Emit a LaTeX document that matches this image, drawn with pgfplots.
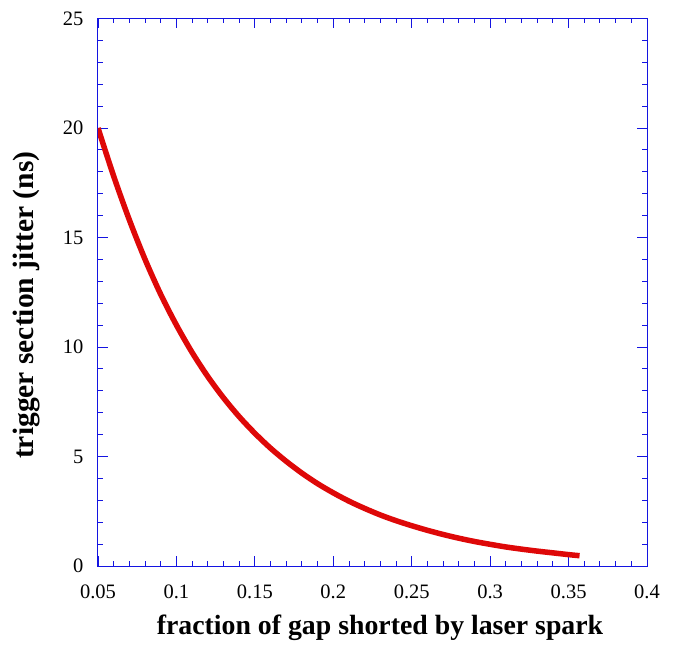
\documentclass[border=0pt]{standalone}
\usepackage{pgfplots}
\pgfplotsset{compat=1.18}
\usepackage{fontspec}
\setmainfont{Liberation Serif}
\definecolor{axblue}{RGB}{20,20,225}
\definecolor{curvered}{RGB}{222,8,8}
\begin{document}
\begin{tikzpicture}
\path[use as bounding box] (-98bp,-79bp) rectangle (586bp,566bp);
\begin{axis}[
  at={(0,0)}, anchor=south west,
  scale only axis,
  width=549bp, height=547.5bp,
  xmin=0.05, xmax=0.4, ymin=0, ymax=25,
  xtick={0.05,0.1,...,0.41},
  ytick={0,5,...,25},
  minor x tick num=4,
  minor y tick num=4,
  tick align=inside,
  major tick length=10bp,
  minor tick length=5bp,
  axis line style={axblue, line width=1bp},
  tick style={axblue, line width=0.9bp},
  scaled x ticks=false,
  /pgf/number format/.cd, fixed, precision=2, assume math mode=true,
  /pgfplots/.cd,
  tick label style={font=\fontsize{20.5bp}{24bp}\selectfont},
  xticklabel style={yshift=-15bp},
  yticklabel style={xshift=-11bp},
  xlabel={\textbf{fraction of gap shorted by laser spark}},
  ylabel={\textbf{trigger section jitter (ns)}},
  every axis x label/.style={at={(axis description cs:0.5,0)}, anchor=center,
     xshift=7.5bp, yshift=-62bp, font=\fontsize{27.8bp}{32bp}\selectfont},
  every axis y label/.style={at={(axis description cs:0,0.5)}, anchor=center,
     xshift=-71bp, yshift=-13bp, rotate=90, font=\fontsize{29.5bp}{34bp}\selectfont},
]
\addplot[curvered, line width=5.5bp, line join=round, smooth, tension=0.5] coordinates {
(0.050,20.0) (0.060,17.8) (0.070,15.8) (0.080,14.0)
(0.090,12.4) (0.100,11.0) (0.110,9.75) (0.120,8.65) (0.130,7.68)
(0.140,6.82) (0.150,6.06) (0.160,5.38) (0.170,4.78) (0.180,4.24)
(0.190,3.76) (0.200,3.34) (0.210,2.96) (0.220,2.63) (0.230,2.33)
(0.240,2.07) (0.250,1.84) (0.260,1.63) (0.270,1.44) (0.280,1.27)
(0.290,1.12) (0.300,0.99) (0.310,0.87) (0.320,0.77) (0.330,0.68)
(0.340,0.60) (0.350,0.52) (0.357,0.47)
};
\end{axis}
\end{tikzpicture}
\end{document}
